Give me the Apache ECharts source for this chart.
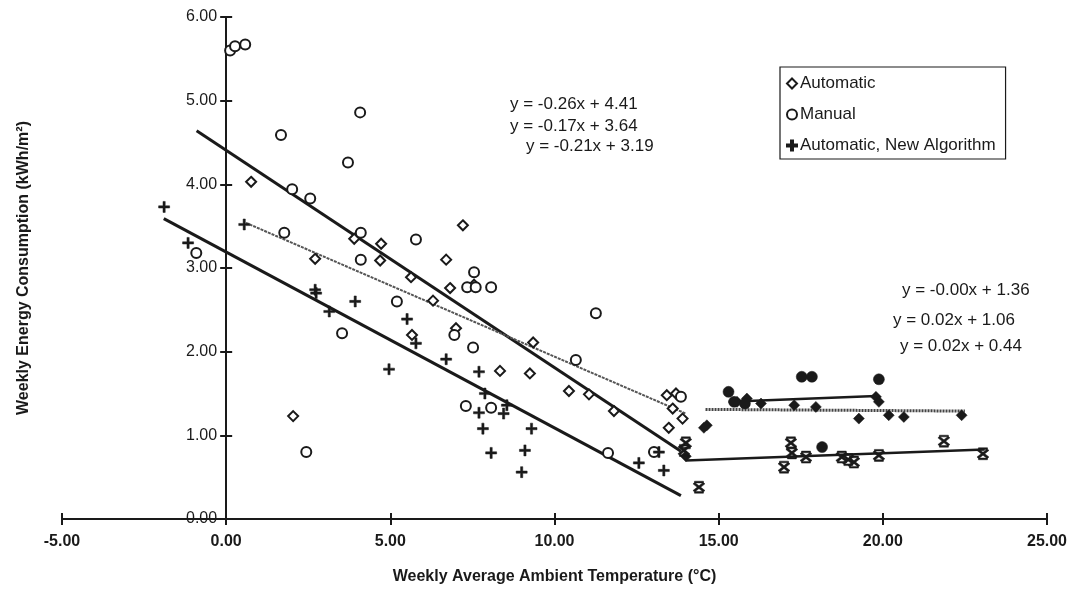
<!DOCTYPE html>
<html><head><meta charset="utf-8">
<script src="https://cdn.jsdelivr.net/npm/echarts@6/dist/echarts.min.js"></script>
<style>html,body{margin:0;padding:0;background:#fff}#c{width:1072px;height:593px}</style>
</head><body><div id="c"></div>
<script>
// ---- data ----
const autoCold = [[0.76,4.03],[2.71,3.11],[3.9,3.35],[4.72,3.29],[4.69,3.09],[7.21,3.51],[6.7,3.10],[6.82,2.76],[6.3,2.61],[5.63,2.89],[5.66,2.2],[7.0,2.28],[7.55,2.8],[8.34,1.77],[9.25,1.74],[9.35,2.11],[10.44,1.53],[11.05,1.49],[11.81,1.29],[13.42,1.48],[13.7,1.50],[13.6,1.32],[13.9,1.20],[13.48,1.09],[2.04,1.23]];
const manualCold = [[0.12,5.60],[0.27,5.65],[0.58,5.67],[1.67,4.59],[3.71,4.26],[4.08,4.86],[2.01,3.94],[2.56,3.83],[1.77,3.42],[-0.91,3.18],[4.1,3.42],[4.1,3.10],[5.78,3.34],[7.55,2.95],[7.34,2.77],[7.6,2.77],[8.07,2.77],[5.2,2.60],[3.53,2.22],[7.52,2.05],[11.26,2.46],[10.65,1.90],[7.3,1.35],[8.07,1.33],[11.63,0.79],[13.03,0.80],[2.44,0.80],[13.85,1.46],[6.95,2.2]];
const newCold = [[-1.89,3.73],[-1.16,3.30],[0.55,3.52],[2.71,2.74],[2.74,2.70],[3.14,2.48],[3.93,2.60],[5.51,2.39],[4.96,1.79],[5.78,2.10],[6.7,1.91],[7.7,1.76],[7.88,1.50],[7.7,1.27],[7.82,1.08],[8.07,0.79],[8.55,1.36],[8.45,1.26],[9.3,1.08],[9.1,0.82],[9.0,0.56],[12.57,0.67],[13.33,0.58],[13.18,0.80]];
const autoWarm = [[14.55,1.09],[14.64,1.12],[14.0,0.75],[15.56,1.40],[15.86,1.44],[16.29,1.38],[17.3,1.36],[17.96,1.34],[19.27,1.20],[19.79,1.46],[19.88,1.40],[20.18,1.24],[20.64,1.22],[22.4,1.24]];
const manualWarm = [[15.3,1.52],[15.47,1.40],[15.8,1.38],[17.53,1.70],[17.84,1.70],[19.88,1.67],[18.15,0.86]];
const newWarm = [[14.0,0.91],[13.94,0.82],[14.4,0.38],[16.99,0.62],[17.2,0.91],[17.23,0.79],[17.66,0.74],[18.75,0.74],[18.95,0.71],[19.12,0.68],[19.88,0.76],[21.86,0.93],[23.05,0.78]];
// trend line end points
const trendManualCold = [[-0.9,4.64],[13.85,0.81]];
const trendAutoCold = [[0.6,3.54],[14.0,1.26]];
const trendNewCold = [[-1.9,3.59],[13.85,0.28]];
const trendAutoWarm = [[14.6,1.31],[22.5,1.29]];
const trendManualWarm = [[15.3,1.40],[19.8,1.47]];
const trendNewWarm = [[14.0,0.70],[23.1,0.83]];
const equationsCold = ['y = -0.26x + 4.41','y = -0.17x + 3.64','y = -0.21x + 3.19'];
const equationsWarm = ['y = -0.00x + 1.36','y = 0.02x + 1.06','y = 0.02x + 0.44'];
const legendNames = ['Automatic','Manual','Automatic, New Algorithm'];
const xTicks = {min:-5, max:25, interval:5};
const yTicks = {min:0, max:6, interval:1};

const INK = '#1a1a1a';
const FONT = '"Liberation Sans", Arial, sans-serif';
const PLUS = 'path://M4,0H6V4H10V6H6V10H4V6H0V4H4Z';
const STAR = 'path://M1,2.2L2.2,1L9,7.8L7.8,9Z M7.8,1L9,2.2L2.2,9L1,7.8Z M2,0H8V1.4H2Z M2,8.6H8V10H2Z';

// grid geometry
const GRID = {left:62, right:25, top:17, bottom:74};
const plotW = 1072 - GRID.left - GRID.right;
// shift of the value axis so it sits at x = 0 of the horizontal scale
const yAxisShift = -plotW * (0 - xTicks.min) / (xTicks.max - xTicks.min);

function scat(name, data, symbol, size, hollow){
  return {type:'scatter', name, data, symbol, symbolSize:size, z:5,
    itemStyle: hollow ? {color:'#fff', borderColor:INK, borderWidth:2, opacity:1} : {color:INK, borderColor:INK, borderWidth:0.5, opacity:1},
    emphasis:{disabled:true}};
}
function trend(data, width, type, color){
  return {type:'line', data, symbol:'none', silent:true, z:4,
    lineStyle:{color:color||INK, width, type:type||'solid'}};
}

const chart = echarts.init(document.getElementById('c'), null, {renderer:'canvas'});
const eqStyle = {font:'17px '+FONT, fill:INK};
chart.setOption({
  animation:false,
  backgroundColor:'#fff',
  grid:Object.assign({containLabel:false, outerBoundsMode:'none'}, GRID),
  legend:{data:legendNames, orient:'vertical', left:780, top:67,
    borderColor:INK, borderWidth:1.2, padding:[8,10,5,6], itemGap:14,
    itemWidth:10, itemHeight:10, itemStyle:{borderWidth:2},
    textStyle:{fontFamily:FONT, fontSize:17, color:INK, padding:[0,0,0,-2]}},
  xAxis:[{type:'value', min:xTicks.min, max:xTicks.max, interval:xTicks.interval,
    axisLine:{onZero:false, lineStyle:{color:INK, width:2}},
    axisTick:{length:6, lineStyle:{color:INK, width:2}},
    splitLine:{show:false},
    axisLabel:{margin:15, fontFamily:FONT, fontSize:16, fontWeight:'bold', color:INK, formatter:v=>v.toFixed(2)},
    name:'Weekly Average Ambient Temperature (°C)', nameLocation:'middle', nameGap:50,
    nameTextStyle:{fontFamily:FONT, fontSize:16, fontWeight:'bold', color:INK}},
   {type:'value', position:'bottom', min:xTicks.min, max:xTicks.max, interval:xTicks.interval,
    axisLine:{show:false, onZero:false}, axisTick:{inside:true, length:6, lineStyle:{color:INK, width:2}},
    axisLabel:{show:false}, splitLine:{show:false}}],
  yAxis:[{type:'value', position:'left', offset:yAxisShift, min:yTicks.min, max:yTicks.max, interval:yTicks.interval,
    axisLine:{onZero:false, lineStyle:{color:INK, width:2}},
    axisTick:{length:6, lineStyle:{color:INK, width:2}},
    splitLine:{show:false},
    axisLabel:{margin:9, fontFamily:FONT, fontSize:16, color:INK, formatter:v=>v.toFixed(2)},
    name:'Weekly Energy Consumption (kWh/m²)', nameLocation:'middle', nameGap:195,
    nameTextStyle:{fontFamily:FONT, fontSize:16, fontWeight:'bold', color:INK}},
   {type:'value', position:'left', offset:yAxisShift, min:yTicks.min, max:yTicks.max, interval:yTicks.interval,
    axisLine:{show:false, onZero:false}, axisTick:{inside:true, length:6, lineStyle:{color:INK, width:2}},
    axisLabel:{show:false}, splitLine:{show:false}}],
  series:[
    scat(legendNames[0], autoCold, 'diamond', 10, true),
    scat(legendNames[1], manualCold, 'circle', 10, true),
    scat(legendNames[2], newCold, PLUS, 11, false),
    scat('Automatic (warm)', autoWarm, 'diamond', 11, false),
    scat('Manual (warm)', manualWarm, 'circle', 11, false),
    scat('Automatic, New Algorithm (warm)', newWarm, STAR, 12, false),
    trend(trendManualCold, 3),
    trend(trendAutoCold, 2, [3,1], '#555'),
    trend(trendNewCold, 3),
    trend(trendAutoWarm, 3, [2,1], '#444'),
    trend(trendManualWarm, 2.5),
    trend(trendNewWarm, 2.5)
  ],
  graphic:[
    {type:'text', left:510, top:96, style:Object.assign({text:equationsCold[0]}, eqStyle)},
    {type:'text', left:510, top:118, style:Object.assign({text:equationsCold[1]}, eqStyle)},
    {type:'text', left:526, top:138, style:Object.assign({text:equationsCold[2]}, eqStyle)},
    {type:'text', left:902, top:282, style:Object.assign({text:equationsWarm[0]}, eqStyle)},
    {type:'text', left:893, top:312, style:Object.assign({text:equationsWarm[1]}, eqStyle)},
    {type:'text', left:900, top:338, style:Object.assign({text:equationsWarm[2]}, eqStyle)}
  ]
});
</script></body></html>
